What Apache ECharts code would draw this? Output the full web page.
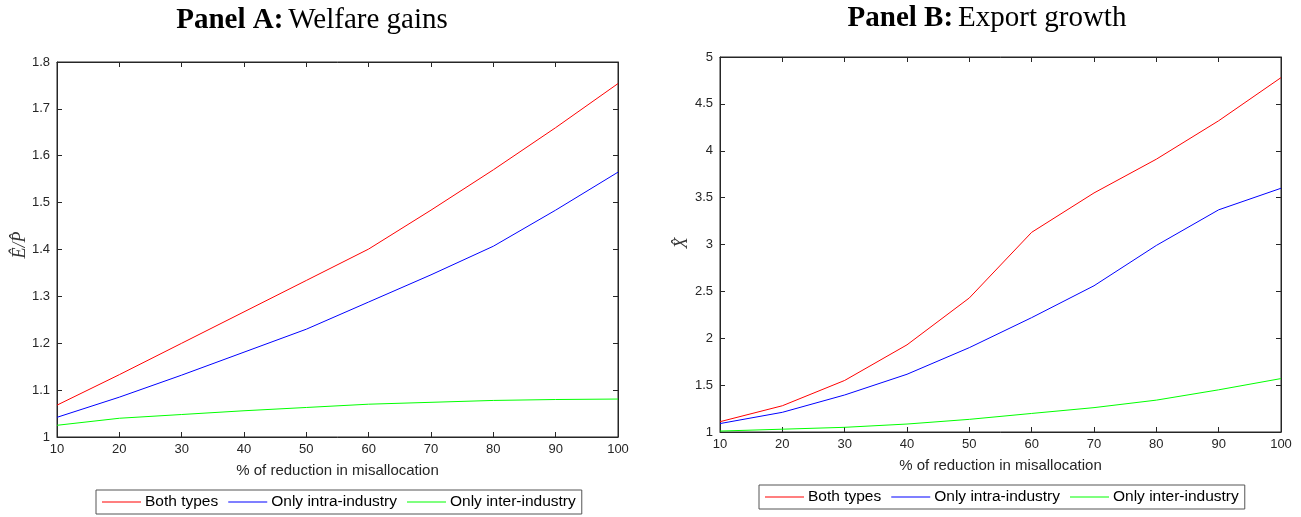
<!DOCTYPE html>
<html><head><meta charset="utf-8">
<script src="https://cdn.jsdelivr.net/npm/echarts@6/dist/echarts.min.js"></script>
<style>html,body{margin:0;padding:0;background:#fff}#c{width:1301px;height:517px}</style>
</head><body><div id="c"></div>
<script>
const categories = [10,20,30,40,50,60,70,80,90,100];
const seriesNames = ['Both types','Only intra-industry','Only inter-industry'];
const welfareBoth  = [1.068,1.133,1.200,1.267,1.334,1.401,1.484,1.570,1.660,1.754];
const welfareIntra = [1.042,1.085,1.132,1.181,1.230,1.288,1.346,1.407,1.484,1.565];
const welfareInter = [1.025,1.040,1.048,1.056,1.063,1.070,1.074,1.078,1.080,1.081];
const exportBoth   = [1.11,1.28,1.55,1.93,2.43,3.13,3.55,3.91,4.32,4.78];
const exportIntra  = [1.09,1.21,1.395,1.616,1.90,2.22,2.56,2.99,3.37,3.60];
const exportInter  = [1.01,1.03,1.05,1.085,1.135,1.198,1.26,1.34,1.45,1.57];
const colors = ['#ff0000','#0000ff','#00ff00'];

const axisColor = '#262626';
const sans = 'Liberation Sans';
function pairs(v){ return categories.map((c,i)=>[c,v[i]]); }

function xAx(grid, pos, labels){
  return {type:'value', gridIndex:grid, position:pos, min:10, max:100, interval:10,
    axisLine:{show:true,lineStyle:{color:axisColor,width:1}},
    axisTick:{show:true,inside:true,length:5,lineStyle:{color:axisColor}},
    axisLabel:{show:labels,color:axisColor,fontFamily:sans,fontSize:13,margin:6},
    splitLine:{show:false},
    name: labels ? '% of reduction in misallocation' : '',
    nameLocation:'middle', nameGap:26,
    nameTextStyle:{color:axisColor,fontFamily:sans,fontSize:15}};
}
function yAx(grid, pos, labels, min, max, interval){
  return {type:'value', gridIndex:grid, position:pos, min:min, max:max, interval:interval,
    axisLine:{show:true,lineStyle:{color:axisColor,width:1}},
    axisTick:{show:true,inside:true,length:5,lineStyle:{color:axisColor}},
    axisLabel:{show:labels,color:axisColor,fontFamily:sans,fontSize:13,margin:7},
    splitLine:{show:false}};
}
function line(name, x, y, data, color){
  return {name:name, type:'line', xAxisIndex:x, yAxisIndex:y, data:pairs(data),
    symbol:'none', lineStyle:{color:color,width:1}, itemStyle:{color:color}, animation:false};
}
const legendCommon = {orient:'horizontal', icon:'rect', itemWidth:39, itemHeight:1.2, itemGap:10,
  borderColor:'#555', borderWidth:1, padding:[4,6,4,6], backgroundColor:'#fff',
  textStyle:{fontFamily:sans,fontSize:15.5,color:'#000',padding:[0,0,0,-1]}, data:seriesNames};
const titleRich = {rich:{
  b:{fontFamily:'Liberation Serif',fontWeight:'bold',fontSize:29,color:'#000'},
  n:{fontFamily:'Liberation Serif',fontWeight:'normal',fontSize:29,color:'#000'}}};

const chart = echarts.init(document.getElementById('c'));
chart.setOption({
  animation:false,
  title:[
    {text:'{b|Panel A:} {n|Welfare gains}', left:307, top:1, textAlign:'center', textStyle:titleRich},
    {text:'{b|Panel B:} {n|Export growth}', left:982, top:-1, textAlign:'center', textStyle:titleRich}
  ],
  grid:[
    {left:57, right:683, top:62, bottom:80, show:true, borderColor:axisColor, borderWidth:1},
    {left:720, right:20, top:57, bottom:85, show:true, borderColor:axisColor, borderWidth:1}
  ],
  xAxis:[ xAx(0,'bottom',true), xAx(0,'top',false), xAx(1,'bottom',true), xAx(1,'top',false) ],
  yAxis:[ yAx(0,'left',true,1,1.8,0.1), yAx(0,'right',false,1,1.8,0.1),
          yAx(1,'left',true,1,5,0.5), yAx(1,'right',false,1,5,0.5) ],
  graphic:[
    {type:'text', x:20, y:245, rotation:Math.PI/2, style:{text:'Ê/P\u0302', font:'italic 18px "Liberation Serif"', fill:'#333', align:'center', verticalAlign:'middle'}},
    {type:'text', x:682, y:243, rotation:Math.PI/2, style:{text:'X\u0302', font:'italic 18px "Liberation Serif"', fill:'#333', align:'center', verticalAlign:'middle'}}
  ],
  legend:[
    Object.assign({}, legendCommon, {left:96, top:490}),
    Object.assign({}, legendCommon, {left:759, top:485})
  ],
  series:[
    line(seriesNames[0],0,0,welfareBoth,colors[0]),
    line(seriesNames[1],0,0,welfareIntra,colors[1]),
    line(seriesNames[2],0,0,welfareInter,colors[2]),
    line(seriesNames[0],2,2,exportBoth,colors[0]),
    line(seriesNames[1],2,2,exportIntra,colors[1]),
    line(seriesNames[2],2,2,exportInter,colors[2])
  ]
});
</script></body></html>
